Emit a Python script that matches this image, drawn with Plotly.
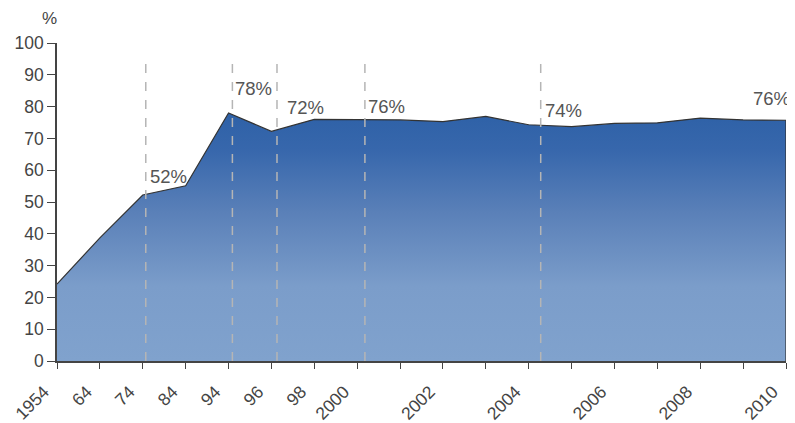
import plotly.graph_objects as go

years = ["1954", "64", "74", "84", "94", "96", "98", "2000", "2001", "2002",
         "2003", "2004", "2005", "2006", "2007", "2008", "2009", "2010"]
tick_labels = ["1954", "64", "74", "84", "94", "96", "98", "2000", "", "2002",
               "", "2004", "", "2006", "", "2008", "", "2010"]
values = [24.2, 38.7, 52.2, 55.1, 78.0, 72.2, 76.0, 76.0, 75.8, 75.3,
          76.9, 74.3, 73.7, 74.7, 74.9, 76.4, 75.8, 75.7]
# dashed marker lines (positions in category-index units)
marker_x = [2.07, 4.09, 5.13, 7.18, 11.28]
ann_x = [2.12, 4.1, 5.32, 7.21, 11.33]
ann_y = [57.9, 85.6, 79.8, 79.9, 78.7]
ann_text = ["52%", "78%", "72%", "76%", "74%"]
last_label = "76%"
last_label_y = 82.7

idx = list(range(len(years)))
FONT = "Liberation Sans"

fig = go.Figure()
fig.add_trace(go.Scatter(
    x=idx + [idx[-1]], y=values + [0],
    mode="lines",
    line=dict(color="#333333", width=1.2),
    fill="tozeroy",
    fillgradient=dict(
        type="vertical", start=0, stop=78,
        colorscale=[[0, "#80a2cd"], [0.3, "#7b9dca"], [0.6, "#5a80b8"],
                    [0.85, "#3767ac"], [1, "#2e61a7"]],
    ),
    hoverinfo="skip",
    showlegend=False,
))

for mx in marker_x:
    fig.add_shape(type="line", x0=mx, x1=mx, y0=0, y1=95.5, xref="x", yref="y",
                  line=dict(color="#b5b5b5", width=1.5, dash="dash"))

for ax_, ay_, t in zip(ann_x, ann_y, ann_text):
    fig.add_annotation(x=ax_, y=ay_, text=t, showarrow=False, xanchor="left",
                       yanchor="middle",
                       font=dict(size=18.5, color="#555555", family=FONT))

fig.add_annotation(x=idx[-1], y=last_label_y, text=last_label, showarrow=False,
                   xanchor="right", yanchor="middle", xshift=6,
                   font=dict(size=18.5, color="#555555", family=FONT))

fig.add_annotation(x=0, y=1, xref="paper", yref="paper", text="%", showarrow=False,
                   xanchor="right", yanchor="middle", xshift=2, yshift=25,
                   font=dict(size=17, color="#444444", family=FONT))

# page body has an 8px margin, so the figure is sized/positioned to compensate
fig.update_layout(
    width=787, height=415,
    margin=dict(l=49, r=9, t=35, b=62),
    paper_bgcolor="white", plot_bgcolor="white",
    font=dict(family=FONT, color="#444444", size=17),
    xaxis=dict(
        range=[0, 17], tickmode="array", tickvals=idx, ticktext=tick_labels,
        tickangle=-45, ticks="outside", ticklen=6, tickcolor="#444444",
        showline=True, linecolor="#444444", linewidth=1.5, showgrid=False,
        zeroline=False, tickfont=dict(size=17.5, color="#444444"), automargin=False,
        ticklabelshift=-13, ticklabelstandoff=6,
    ),
    yaxis=dict(
        range=[0, 100], tickvals=list(range(0, 101, 10)), ticks="outside",
        ticklen=8, tickcolor="#444444", showline=True, linecolor="#444444",
        linewidth=1.5, showgrid=False, zeroline=False,
        tickfont=dict(size=17.5, color="#444444"), automargin=False,
    ),
)

fig.write_html("out.html")
